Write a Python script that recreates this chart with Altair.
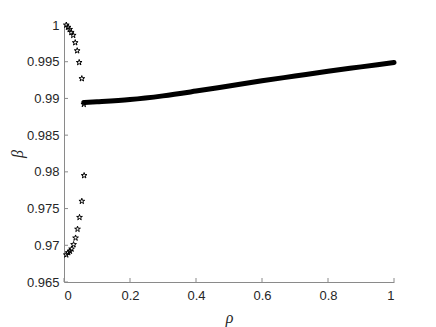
import altair as alt
import pandas as pd

# Star markers (rho, beta)
star_x = [0.007, 0.012, 0.017, 0.022, 0.028, 0.034, 0.040, 0.046, 0.054, 0.060,
          0.061, 0.054, 0.047, 0.041, 0.035, 0.029, 0.023, 0.018, 0.013, 0.007]
star_y = [1.0000, 0.9997, 0.9994, 0.9990, 0.9986, 0.9976, 0.9965, 0.9949, 0.9927, 0.9892,
          0.9795, 0.9760, 0.9738, 0.9722, 0.9710, 0.9701, 0.9695, 0.9692, 0.9690, 0.9687]

# Thick curve
line_x = [0.06, 0.1, 0.2, 0.3, 0.4, 0.5, 0.6, 0.7, 0.8, 0.9, 1.0]
line_y = [0.98945, 0.98955, 0.98985, 0.99035, 0.99100, 0.99170, 0.99240, 0.99305, 0.99370, 0.99430, 0.99490]

x_ticks = [0, 0.2, 0.4, 0.6, 0.8, 1]
y_ticks = [0.965, 0.97, 0.975, 0.98, 0.985, 0.99, 0.995, 1]

W, H = 330, 257
STAR = ("M0,-1L0.2245,-0.309L0.951,-0.309L0.363,0.118L0.588,0.809L0,0.382"
        "L-0.588,0.809L-0.363,0.118L-0.951,-0.309L-0.2245,-0.309Z")

df_star = pd.DataFrame({"x": star_x, "y": star_y})
df_line = pd.DataFrame({"x": line_x, "y": line_y})
df_xt = pd.DataFrame({"x": x_ticks})
df_yt = pd.DataFrame({"y": y_ticks})

xs = alt.Scale(domain=[0, 1], nice=False, zero=False)
ys = alt.Scale(domain=[0.965, 1], nice=False, zero=False)

AXC = "#262626"
xaxis = alt.Axis(values=x_ticks, format=".1~f", title="ρ", ticks=False, grid=False,
                 domainColor="#8a8a8a", labelColor=AXC, labelFont="Liberation Sans",
                 labelFontSize=13, labelPadding=7, titleFont="Liberation Serif",
                 titleFontStyle="italic", titleFontWeight="normal", titleFontSize=16,
                 titleColor=AXC, titlePadding=7)
yaxis = alt.Axis(values=y_ticks, format=".3~f", title="β", ticks=False, grid=False,
                 domainColor="#8a8a8a", labelColor=AXC, labelFont="Liberation Sans",
                 labelFontSize=13, labelPadding=5, titleFont="Liberation Serif",
                 titleFontStyle="italic", titleFontWeight="normal", titleFontSize=16,
                 titleColor=AXC, titlePadding=1)

line = alt.Chart(df_line).mark_line(color="black", strokeWidth=5, strokeCap="round",
                                    interpolate="monotone").encode(
    x=alt.X("x:Q", scale=xs, axis=xaxis),
    y=alt.Y("y:Q", scale=ys, axis=yaxis),
)
stars = alt.Chart(df_star).mark_point(shape=STAR, size=36, filled=False, color="black",
                                      strokeWidth=1, opacity=1).encode(
    x=alt.X("x:Q", scale=xs, axis=xaxis),
    y=alt.Y("y:Q", scale=ys, axis=yaxis),
)
yt = alt.Chart(df_yt).mark_rule(color="#8a8a8a", strokeWidth=1).encode(
    y=alt.Y("y:Q", scale=ys, axis=yaxis), x=alt.value(0), x2=alt.value(4))
xt = alt.Chart(df_xt).mark_rule(color="#8a8a8a", strokeWidth=1).encode(
    x=alt.X("x:Q", scale=xs, axis=xaxis), y=alt.value(H), y2=alt.value(H - 4))

chart = alt.layer(yt, xt, line, stars).properties(
    width=W, height=H,
    autosize=alt.AutoSizeParams(type="none"),
    padding={"left": 56, "top": 17, "right": 30, "bottom": 45},
).configure_view(stroke=None)

chart.save("out.html", embed_options={"renderer": "svg", "actions": False})
